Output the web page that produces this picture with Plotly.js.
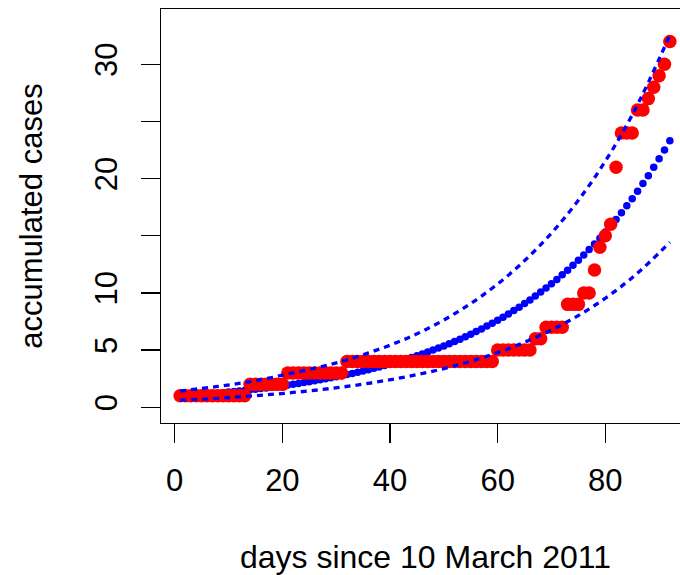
<!DOCTYPE html>
<html>
<head>
<meta charset="utf-8">
<script src="https://cdn.plot.ly/plotly-3.0.1.min.js"></script>
<style>
html, body { margin: 0; padding: 0; overflow: hidden; background: #ffffff; }
#chart { width: 690px; height: 575px; }
</style>
</head>
<body>
<div id="chart"></div>
<script>
// days since 10 March 2011
const days = [1,2,3,4,5,6,7,8,9,10,11,12,13,14,15,16,17,18,19,20,
  21,22,23,24,25,26,27,28,29,30,31,32,33,34,35,36,37,38,39,40,
  41,42,43,44,45,46,47,48,49,50,51,52,53,54,55,56,57,58,59,60,
  61,62,63,64,65,66,67,68,69,70,71,72,73,74,75,76,77,78,79,80,
  81,82,83,84,85,86,87,88,89,90,91,92];

// observed accumulated cases (red)
const observed = [1,1,1,1,1,1,1,1,1,1,1,1,1,2,2,2,2,2,2,2,
  3,3,3,3,3,3,3,3,3,3,3,4,4,4,4,4,4,4,4,4,
  4,4,4,4,4,4,4,4,4,4,4,4,4,4,4,4,4,4,4,5,
  5,5,5,5,5,5,6,6,7,7,7,7,9,9,9,10,10,12,14,15,
  16,21,24,24,24,26,26,27,28,29,30,32];

// fitted values (blue points)
const fitted = [0.965,0.999,1.035,1.072,1.110,1.150,1.191,1.233,1.277,1.323,
  1.370,1.418,1.469,1.521,1.575,1.631,1.690,1.750,1.812,1.877,
  1.944,2.013,2.085,2.159,2.236,2.316,2.398,2.484,2.572,2.664,
  2.758,2.857,2.958,3.064,3.173,3.286,3.403,3.524,3.650,3.780,
  3.914,4.054,4.198,4.348,4.502,4.663,4.829,5.001,5.179,5.363,
  5.554,5.752,5.957,6.169,6.389,6.616,6.852,7.096,7.349,7.610,
  7.881,8.162,8.453,8.754,9.066,9.388,9.723,10.07,10.43,10.80,
  11.18,11.58,11.99,12.42,12.86,13.32,13.79,14.28,14.79,15.32,
  15.86,16.43,17.01,17.62,18.25,18.90,19.57,20.26,20.99,21.73,
  22.51,23.31];

// dashed bounds (read at selected days)
const boundDays = [1,8,15,22,29,36,43,50,57,64,71,78,85,92];
const upper = [1.42,1.82,2.32,3.00,3.75,4.75,6.00,7.63,9.72,12.38,15.77,20.08,25.57,32.56];
const lower = [0.62,0.78,1.01,1.29,1.64,2.09,2.66,3.38,4.31,5.49,6.99,8.90,11.33,14.43];

const xTicks = [0,20,40,60,80];
const yTicks = [0,5,10,15,20,25,30];
const yTickText = ['0','5','10','','20','','30'];

const FONT = 'Liberation Sans, Arial, Helvetica, sans-serif';

const traces = [
  { x: days, y: fitted, type: 'scatter', mode: 'markers',
    marker: { color: '#0000ff', size: 7.5, line: { width: 0 } }, hoverinfo: 'x+y' },
  { x: days, y: observed, type: 'scatter', mode: 'markers',
    marker: { color: '#ff0000', size: 13.5, line: { width: 0 } }, hoverinfo: 'x+y' },
  { x: boundDays, y: upper, type: 'scatter', mode: 'lines',
    line: { color: '#0000ff', width: 3.3, dash: '6px,5px', shape: 'spline' } },
  { x: boundDays, y: lower, type: 'scatter', mode: 'lines',
    line: { color: '#0000ff', width: 3.3, dash: '6px,5px', shape: 'spline' } }
];

const layout = {
  width: 690, height: 575,
  margin: { l: 161, r: 0, t: 9, b: 152 },
  paper_bgcolor: '#ffffff', plot_bgcolor: '#ffffff',
  showlegend: false,
  font: { family: FONT, color: '#000000', size: 31 },
  xaxis: {
    range: [-2.55, 95.74], tickmode: 'array', tickvals: xTicks,
    ticks: 'outside', ticklen: 19, tickwidth: 1.3, tickcolor: '#000',
    showline: true, mirror: true, linecolor: '#000', linewidth: 1.3,
    showgrid: false, zeroline: false,
    tickfont: { family: FONT, size: 31, color: '#000' },
    ticklabelstandoff: 10,
    title: { text: 'days since 10 March 2011', font: { family: FONT, size: 32, color: '#000' }, standoff: 50 }
  },
  yaxis: {
    range: [-1.38, 34.84], tickmode: 'array', tickvals: yTicks, ticktext: yTickText,
    tickangle: -90,
    ticks: 'outside', ticklen: 19, tickwidth: 1.3, tickcolor: '#000',
    showline: true, mirror: true, linecolor: '#000', linewidth: 1.3,
    showgrid: false, zeroline: false,
    tickfont: { family: FONT, size: 31, color: '#000' },
    ticklabelstandoff: 11,
    title: { text: 'accumulated cases', font: { family: FONT, size: 31, color: '#000' }, standoff: 37 }
  }
};

Plotly.newPlot('chart', traces, layout, { displayModeBar: false, staticPlot: true });
</script>
</body>
</html>
